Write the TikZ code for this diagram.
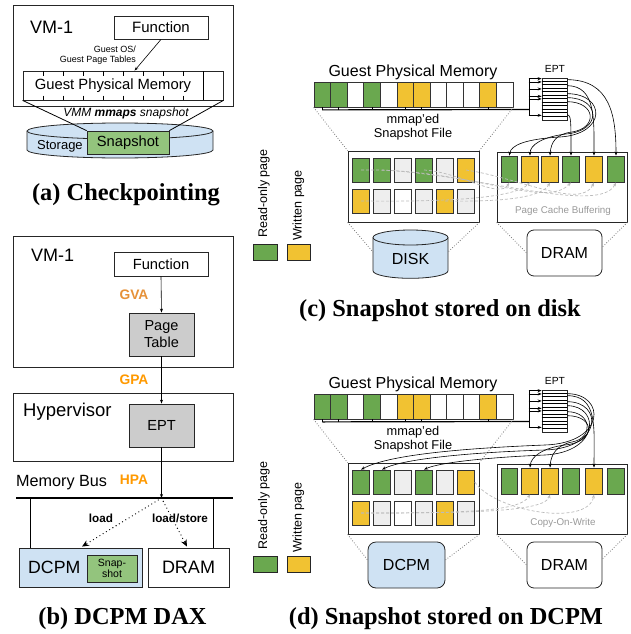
\documentclass[tikz,border=0pt]{standalone}
\usepackage{fontspec}
\setsansfont{Liberation Sans}
\newfontfamily\capfont{Liberation Serif}
\usetikzlibrary{arrows.meta,calc}
\definecolor{pgreen}{HTML}{6AA84F}
\definecolor{lgreen}{HTML}{93C47D}
\definecolor{pyellow}{HTML}{F1C232}
\definecolor{pgray}{HTML}{EEEEEE}
\definecolor{pblue}{HTML}{CFE2F3}
\definecolor{boxgray}{HTML}{CCCCCC}
\definecolor{gvaorange}{HTML}{E69138}
\definecolor{paorange}{HTML}{FF9900}
\definecolor{dashgray}{HTML}{BBBBBB}
\definecolor{dotgray}{HTML}{777777}
\definecolor{txtgray}{HTML}{999999}
\newcommand{\myfs}[1]{\fontsize{#1}{#1}\selectfont}
\newcommand{\myfsl}[2]{\fontsize{#1}{#2}\selectfont}
\tikzset{
  box/.style={draw=black!85, line width=0.8pt, inner sep=0pt},
  cell/.style={draw=black!80, line width=0.8pt, inner sep=0pt},
  lab/.style={font=\sffamily, inner sep=0pt},
  tip/.style={-{Stealth[length=4pt,width=3pt]}},
  eptarrow/.style={line width=0.6pt, -{Stealth[length=4pt,width=3pt]}},
  dasharrow/.style={draw=dashgray, line width=0.7pt, dash pattern=on 3pt off 2pt, -{Stealth[length=4pt,width=3pt]}},
  proj/.style={draw=dotgray, line width=0.8pt, dash pattern=on 0.8pt off 1.8pt},
  caption/.style={font=\capfont\bfseries\myfs{24.4}, inner sep=0pt},
  dotarrow/.style={line width=1.3pt, dash pattern=on 0pt off 3.8pt, line cap=round, -{Stealth[length=7pt,width=6pt]}},
}
\newcommand{\panelcd}[3]{%
\begin{scope}[yshift=#2]
\node[lab, font=\sffamily\myfs{16}] (gpmt#1) at (413,72) {Guest Physical Memory};
\foreach \i/\fc in {1/pgreen,2/pgreen,3/white,4/pgreen,5/white,6/pyellow,7/pyellow,8/white,9/white,10/white,11/pyellow,12/white}
  \node[cell, fill=\fc, minimum width=16.58, minimum height=25] (g#1-\i) at ({314+16.58*(\i-0.5)},94.5) {};
\coordinate (comb#1) at (529,109.5);
\draw[line width=1.2pt] ($(g#1-1.south)+(0,2.5)$) -- (comb#1);
\foreach \i in {1,2,4,6,7,11} \draw[line width=0.8pt] (g#1-\i.south) -- ++(0,2.5);
\draw[line width=0.8pt] ($(comb#1)+(0,-30.5)$) -- ($(comb#1)+(0,6.5)$);
\node[box, minimum width=25, minimum height=42, line width=0.7pt] (ept#1) at (554.5,99) {};
\foreach \k in {1,...,11} \draw[line width=0.5pt] ($(ept#1.north west)+(0,3.5*\k)$) -- ($(ept#1.north east)+(0,3.5*\k)$);
\foreach \yy in {1,4.3,11.3,18.7,21.3,37.7} \draw[eptarrow] ($(ept#1.north west)+(-13,\yy)$) -- ($(ept#1.north west)+(0,\yy)$);
\node[lab, font=\sffamily\myfs{10.3}] (eptl#1) at (555,69) {EPT};
\node[lab, align=center, font=\sffamily\myfsl{12.8}{14}] (mmt#1) at (413,127) {mmap'ed\\Snapshot File};
\node[box, minimum width=131, minimum height=71] (sf#1) at (413.5,186.5) {};
\foreach \i/\ca/\cb in {1/pgreen/pyellow, 2/pgreen/pgray, 3/pgray/white, 4/pgreen/pgray, 5/pgray/pyellow, 6/pyellow/pgray} {
  \node[cell, fill=\ca, minimum width=16.7, minimum height=24] (sa#1-\i) at ({361+21*(\i-1)},170) {};
  \node[cell, fill=\cb, minimum width=16.7, minimum height=24] (sb#1-\i) at ({361+21*(\i-1)},201) {};
}
\node[box, minimum width=130, minimum height=70] (dr#1) at (562,187) {};
\foreach \i/\xx/\fc in {1/509.3/pgreen, 2/530/pyellow, 3/550/pyellow, 4/571/pgreen, 5/594/pyellow, 6/616/pgreen}
  \node[cell, fill=\fc, minimum width=16.7, minimum height=26] (rc#1-\i) at (\xx,169) {};
\node[lab, font=\sffamily\myfs{9.8}, text=txtgray] (pcb#1) at (563,211) {#3};
\node[box, rounded corners=7pt, minimum width=75, minimum height=46, font=\sffamily\myfs{16}] (drm#1) at (564.5,253) {DRAM};
\draw[proj] (g#1-1.south west) -- (sf#1.north west);
\draw[proj] (g#1-12.south east) -- (sf#1.north east);
\draw[proj] (dr#1.south west) -- (drm#1.west);
\draw[proj] (dr#1.south east) -- ($(drm#1.east)+(0,-6)$);
\end{scope}}
\begin{document}
\begin{tikzpicture}[x=1pt,y=-1pt]
\useasboundingbox (0,0) rectangle (631,634);
%% ---------------- (a) ----------------
\node[box, minimum width=220, minimum height=101] (vma) at (123,55.5) {};
\node[lab, anchor=west, font=\sffamily\myfs{18}] (vmat) at (30,27) {VM-1};
\node[box, minimum width=94, minimum height=23, font=\sffamily\myfs{15}] (funa) at (161,27.5) {Function};
\node[lab, anchor=east, align=right, font=\sffamily\myfsl{9}{10}] (gosa) at (136,55) {Guest OS/\\Guest Page Tables};
\node[box, minimum width=200, minimum height=29] (gpma) at (123,85.5) {};
\foreach \t in {43,63,...,183} {
  \draw[line width=0.8pt] (\t,71) -- (\t,75.5);
  \draw[line width=0.8pt] (\t,95.5) -- (\t,100);
}
\draw[line width=0.8pt] (203,71) -- (203,100);
\node[lab, font=\sffamily\myfs{14.8}] (gpmat) at (113,86) {Guest Physical Memory};
\draw[line width=0.6pt, tip] (funa.south) -- ($(gpma.north west)+(112,0)$);
\node[lab, font=\sffamily\itshape\myfs{12}] (mmapa) at (126,113) {VMM \textbf{mmaps} snapshot};
\path[draw=black!85, line width=0.8pt, fill=pblue] (27,131) -- (27,150) arc[start angle=180, end angle=360, x radius=93pt, y radius=8pt] -- (213,131) arc[start angle=0, end angle=180, x radius=93pt, y radius=8pt] -- cycle;
\draw[draw=black!85, line width=0.8pt] (27,131) arc[start angle=180, end angle=360, x radius=93pt, y radius=8pt];
\node[lab, anchor=west, font=\sffamily\myfs{13}] (stora) at (37,146) {Storage};
\node[box, fill=lgreen, minimum width=82, minimum height=23, font=\sffamily\myfs{14.7}] (snapa) at (128,142.5) {Snapshot};
\draw[line width=0.8pt] (gpma.south west) -- (snapa.north west);
\draw[line width=0.8pt] (gpma.south east) -- (snapa.north east);
\node[caption] (capa) at (126,195) {(a) Checkpointing};
%% ---------------- (b) ----------------
\node[box, minimum width=220, minimum height=131] (vmb) at (123,301.5) {};
\node[lab, anchor=west, font=\sffamily\myfs{18}] (vmbt) at (31,255) {VM-1};
\node[box, minimum width=94, minimum height=24, font=\sffamily\myfs{14.7}] (funb) at (161,264) {Function};
\node[box, fill=boxgray, minimum width=65, minimum height=43, align=center, font=\sffamily\myfsl{14.5}{17}] (ptb) at (161.5,334.5) {Page\\Table};
\node[box, minimum width=220, minimum height=68] (hypb) at (123,427) {};
\node[lab, anchor=west, font=\sffamily\myfs{18.5}] (hypt) at (23,412) {Hypervisor};
\node[box, fill=boxgray, minimum width=65, minimum height=43, font=\sffamily\myfs{14.6}] (eptb) at (161.5,425.5) {EPT};
\node[lab, anchor=west, font=\sffamily\myfs{16.2}] (mbus) at (16,483) {Memory Bus};
\node[lab, font=\sffamily\bfseries\myfs{13.8}, text=gvaorange] (gva) at (134,295) {GVA};
\node[lab, font=\sffamily\bfseries\myfs{13.8}, text=paorange] (gpa) at (134,380) {GPA};
\node[lab, font=\sffamily\bfseries\myfs{13.8}, text=paorange] (hpa) at (134,480) {HPA};
\coordinate (busl) at (16,498);
\coordinate (busr) at (233,498);
\coordinate (busp) at (161.5,498);
\draw[line width=2.2pt] (busl) -- (busr);
\draw[line width=0.6pt, tip] (funb.south) -- (ptb.north);
\draw[line width=0.6pt, tip] (ptb.south) -- (eptb.north);
\draw[line width=0.6pt, tip] (eptb.south) -- (busp);
\node[box, fill=pblue, minimum width=123, minimum height=39] (dcpmb) at (80.5,567.5) {};
\node[lab, anchor=west, font=\sffamily\myfs{17.7}] (dcpmt) at (28,567) {DCPM};
\node[box, fill=lgreen, minimum width=50, minimum height=27, align=center, font=\sffamily\myfsl{10.5}{11.5}] (snapb) at (112,568.5) {Snap-\\shot};
\node[box, minimum width=81, minimum height=39, font=\sffamily\myfs{18}] (dramb) at (188.5,567.5) {DRAM};
\draw[line width=0.8pt] ($(dcpmb.north west)+(12,0)$) -- ++(0,-50);
\draw[line width=0.8pt] ($(dramb.north east)+(-16,0)$) -- ++(0,-50);
\draw[dotarrow] (busp) -- ($(dcpmb.north)+(1.5,-1)$);
\draw[dotarrow] (busp) -- ($(dramb.north)+(-1.5,-1)$);
\node[lab, font=\sffamily\bfseries\myfs{11.7}] (loadl) at (101,518) {load};
\node[lab, font=\sffamily\bfseries\myfs{11.7}] (lsl) at (180,518) {load/store};
\node[caption] (capb) at (122.5,619) {(b) DCPM DAX};
%% ---------------- legends ----------------
\foreach \sy/\n in {0/c,312/d} {
  \node[box, fill=pgreen, minimum width=24, minimum height=16] (lgg\n) at (265,252+\sy) {};
  \node[box, fill=pyellow, minimum width=23, minimum height=16] (lgy\n) at (298.5,252+\sy) {};
  \node[lab, rotate=90, font=\sffamily\myfs{12.5}] (lgt\n) at (264,193.5+\sy) {Read-only page};
  \node[lab, rotate=90, font=\sffamily\myfs{12.5}] (lwt\n) at (298.5,205.5+\sy) {Written page};
}
%% ---------------- (c) ----------------
\panelcd{c}{0pt}{Page Cache Buffering}
\path[draw=black!85, line width=0.8pt, fill=pblue] (373,237.5) -- (373,270.8) arc[start angle=180,end angle=360,x radius=37.5pt,y radius=7.5pt] -- (448,237.5) arc[start angle=0,end angle=180,x radius=37.5pt,y radius=7.5pt] -- cycle;
\draw[draw=black!85, line width=0.8pt] (373,237.5) arc[start angle=180,end angle=360,x radius=37.5pt,y radius=7.5pt];
\node[lab, font=\sffamily\myfs{16}] (disk) at (410.5,259) {DISK};
\coordinate (diskl) at (373,252);
\coordinate (diskr) at (448,252);
\draw[proj] (sfc.south west) -- (diskl);
\draw[proj] (sfc.south east) -- (diskr);
\draw[eptarrow] ($(eptc.north east)+(0,2)$) .. controls (610,80) and (616,115) .. (rcc-6.north);
\draw[eptarrow] ($(eptc.north east)+(0,8)$) .. controls (596,86) and (594,120) .. (rcc-5.north);
\draw[eptarrow] ($(eptc.north east)+(0,37)$) .. controls (571,115) and (571,120) .. (rcc-4.north);
\draw[eptarrow] ($(eptc.north east)+(0,24)$) .. controls (596,102) and (598,128) .. (572,132) .. controls (556,134) and (551,142) .. (rcc-3.north);
\draw[eptarrow] ($(eptc.north east)+(0,20)$) .. controls (601,98) and (602,131) .. (566,134) .. controls (542,137) and (530,145) .. (rcc-2.north);
\draw[eptarrow] ($(eptc.north east)+(0,16)$) .. controls (606,94) and (607,134) .. (560,137) .. controls (526,139) and (511,145) .. (rcc-1.north);
\draw[dasharrow] (sac-1.center) .. controls (470,168) and (545,210) .. (rcc-4.south);
\draw[dasharrow] (sac-2.center) .. controls (480,175) and (600,215) .. (rcc-6.south);
\draw[dasharrow] (sac-4.center) .. controls (460,172) and (500,200) .. (rcc-1.south);
\draw[dasharrow] (sac-6.center) .. controls (520,178) and (582,210) .. (rcc-5.south);
\draw[dasharrow] (sbc-1.center) .. controls (450,202) and (515,198) .. (rcc-2.south);
\draw[dasharrow] (sbc-5.center) .. controls (500,202) and (542,198) .. (rcc-3.south);
\node[caption] (capc) at (440,311) {(c) Snapshot stored on disk};
%% ---------------- (d) ----------------
\panelcd{d}{-312pt}{Copy-On-Write}
\begin{scope}[yshift=-312pt]
\node[box, fill=pblue, rounded corners=8pt, minimum width=77, minimum height=46, font=\sffamily\myfs{16}] (dcpmd) at (406.5,253) {DCPM};
\draw[proj] (sfd.south west) -- ($(dcpmd.west)+(0,-5)$);
\draw[proj] (sfd.south east) -- ($(dcpmd.east)+(0,-5)$);
\draw[eptarrow] ($(eptd.north east)+(0,6)$) .. controls (598,84) and (594,115) .. (rcd-5.north);
\draw[eptarrow] ($(eptd.north east)+(0,22)$) .. controls (592,100) and (594,126) .. (572,130) .. controls (557,133) and (551,142) .. (rcd-3.north);
\draw[eptarrow] ($(eptd.north east)+(0,26)$) .. controls (596,104) and (596,130) .. (565,133) .. controls (542,136) and (531,145) .. (rcd-2.north);
\draw[eptarrow] ($(eptd.north east)+(0,4)$) .. controls (606,82) and (606,131) .. (545,133) .. controls (470,136) and (390,142) .. (sad-1.north);
\draw[eptarrow] ($(eptd.north east)+(0,12)$) .. controls (603,90) and (603,136) .. (545,138) .. controls (480,140) and (405,146) .. (sad-2.north);
\draw[eptarrow] ($(eptd.north east)+(0,16)$) .. controls (600,94) and (600,140) .. (545,143) .. controls (495,145) and (440,150) .. (sad-4.north);
\draw[dasharrow] (sbd-1.center) .. controls (460,201) and (520,200) .. (rcd-2.south);
\draw[dasharrow] (sbd-1.center) .. controls (470,201) and (545,200) .. (rcd-3.south);
\draw[dasharrow] (sad-6.east) .. controls (495,200) and (588,215) .. (rcd-5.south);
\end{scope}
\node[caption] (capd) at (446,619) {(d) Snapshot stored on DCPM};
\end{tikzpicture}
\end{document}
